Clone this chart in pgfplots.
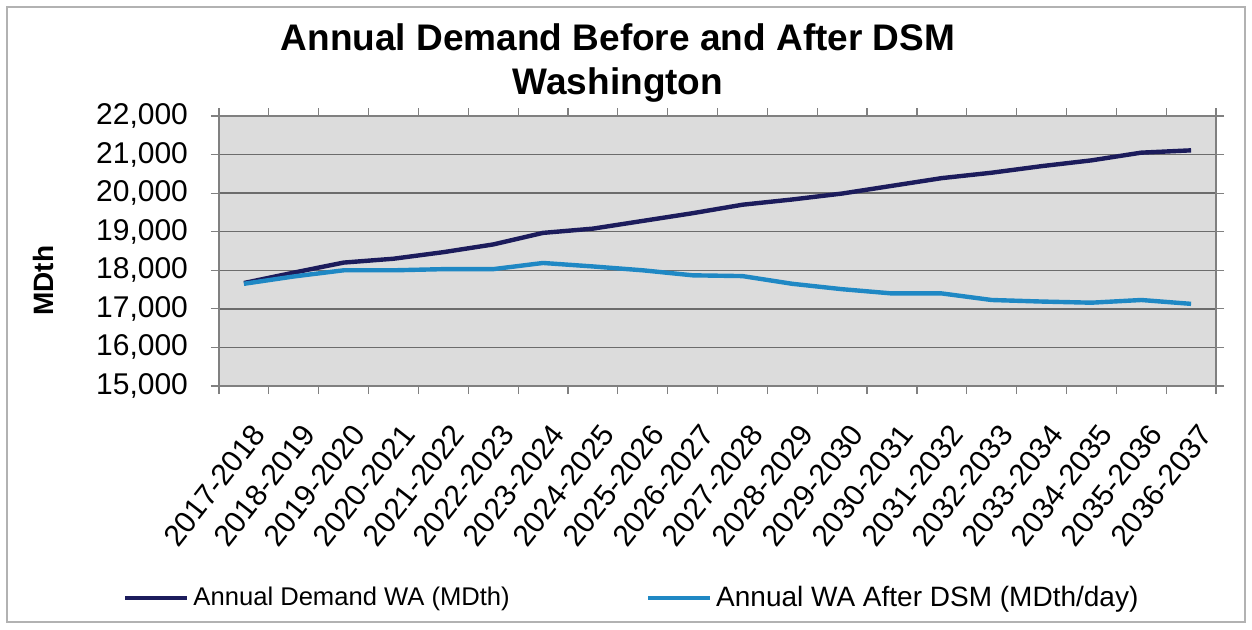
\documentclass[border=0pt]{standalone}
\usepackage{fontspec}
\setmainfont{Liberation Sans}
\usepackage{pgfplots}
\pgfplotsset{compat=1.18}

\definecolor{demand}{HTML}{1C1C5C}
\definecolor{afterdsm}{HTML}{1F88C4}
\definecolor{plotbg}{HTML}{DCDCDC}

% Washington annual demand, MDth (x = season index 0..19)
\pgfplotstableread{
x  demand  after
0  17670   17650
1  17940   17840
2  18200   18000
3  18300   18000
4  18470   18030
5  18670   18030
6  18970   18190
7  19080   18100
8  19280   18000
9  19480   17870
10 19700   17850
11 19836   17650
12 19990   17510
13 20190   17400
14 20390   17400
15 20530   17230
16 20700   17190
17 20850   17160
18 21050   17230
19 21110   17130
}\demandtable

\begin{document}
\begin{tikzpicture}
\useasboundingbox (-109.5pt,-121.5pt) rectangle (516.5pt,193pt);
% outer chart frame
\draw[gray!60, line width=0.6pt] (-106pt,-118pt) rectangle (513pt,189.5pt);
\node[font=\bfseries\fontsize{18.5}{22}\selectfont, align=center] at (199.5pt,161.5pt)
  {Annual Demand Before and After DSM\\Washington};
\begin{axis}[
  at={(0pt,0pt)}, anchor=south west,
  scale only axis,
  width=498.5pt, height=135pt,
  xmin=-0.5, xmax=19.5,
  ymin=15000, ymax=22000,
  ytick={15000,16000,...,22000},
  xtick={0,...,19},
  xticklabels={2017-2018,2018-2019,2019-2020,2020-2021,2021-2022,2022-2023,
    2023-2024,2024-2025,2025-2026,2026-2027,2027-2028,2028-2029,2029-2030,
    2030-2031,2031-2032,2032-2033,2033-2034,2034-2035,2035-2036,2036-2037},
  minor xtick={-0.5,0.5,...,19.5},
  major x tick style={draw=none},
  minor x tick style={gray, line width=0.6pt},
  y tick style={gray, line width=0.6pt},
  tick align=outside,
  major tick length=4pt, minor tick length=4pt,
  scaled y ticks=false,
  /pgf/number format/1000 sep={,},
  /pgf/number format/assume math mode=true,
  ticklabel style={font=\fontsize{15}{17}\selectfont},
  x tick label style={rotate=52, anchor=north east, inner sep=1pt, yshift=-10pt, xshift=-8pt},
  y tick label style={xshift=-8pt},
  axis line style={gray, line width=0.6pt},
  axis background/.style={fill=plotbg},
  ymajorgrids,
  grid style={draw=gray!85!black, line width=0.7pt},
  ylabel={\bfseries MDth},
  ylabel style={font=\fontsize{14}{16}\selectfont, at={(axis description cs:-0.1765,0.39)}, anchor=center},
  legend columns=2,
  legend style={draw=none, fill=none, at={(axis description cs:0.415,-0.785)}, anchor=center,
    /tikz/every even column/.append style={column sep=66pt}},
  legend image code/.code={\draw[#1] (0pt,0pt) -- (31pt,0pt);},
]
\addplot[demand, line width=2.2pt, line join=round] table[x=x, y=demand] {\demandtable};
\addlegendentry{\fontsize{12.8}{15}\selectfont Annual Demand WA (MDth)}
\addplot[afterdsm, line width=2.2pt, line join=round] table[x=x, y=after] {\demandtable};
\addlegendentry{\fontsize{14}{15}\selectfont Annual WA After DSM (MDth/day)}
\end{axis}
\end{tikzpicture}
\end{document}
